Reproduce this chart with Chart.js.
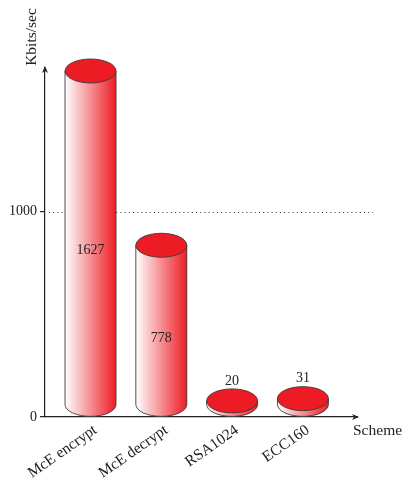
<!DOCTYPE html>
<html>
<head>
<meta charset="utf-8">
<script src="https://cdn.jsdelivr.net/npm/chart.js@4.4.1/dist/chart.umd.min.js"></script>
<style>
  html, body { margin: 0; padding: 0; background: #fff; }
  #chart { display: block; }
</style>
</head>
<body>
<canvas id="chart" width="403" height="480"></canvas>
<script>
// Throughput of each scheme, in Kbits/sec
const categories = ['McE encrypt', 'McE decrypt', 'RSA1024', 'ECC160'];
const throughput = [1627, 778, 20, 31];
const yTickValues = [0, 1000];
const referenceLevel = 1000;
const xAxisTitle = 'Scheme';
const yAxisTitle = 'Kbits/sec';

const FONT_FAMILY = "'Liberation Serif', 'DejaVu Serif', serif";
const WORD_SIZE = 15.5;
const NUM_SIZE = 14;
const INK = '#222';
const RED = '#ed1c24';
const CAP_RY = 12; // vertical radius of the cylinder caps

// Dotted reference line behind the cylinders
const referenceLinePlugin = {
  id: 'referenceLine',
  beforeDatasetsDraw(chart) {
    const { ctx, chartArea, scales } = chart;
    const y = Math.round(scales.y.getPixelForValue(referenceLevel)) + 0.5;
    ctx.save();
    ctx.strokeStyle = '#333';
    ctx.lineWidth = 1;
    ctx.setLineDash([1, 3.2]);
    ctx.beginPath();
    ctx.moveTo(chartArea.left + 4, y);
    ctx.lineTo(chartArea.right + 16, y);
    ctx.stroke();
    ctx.restore();
  }
};

// Bars rendered as shaded cylinders with a red cap
const cylinderPlugin = {
  id: 'cylinders',
  afterDatasetsDraw(chart) {
    const { ctx } = chart;
    const meta = chart.getDatasetMeta(0);
    meta.data.forEach((bar, i) => {
      const cx = bar.x;
      const rx = bar.width / 2;
      const ry = CAP_RY;
      const topC = bar.y - ry;
      const botC = bar.base - ry;
      ctx.save();
      ctx.lineWidth = 0.9;
      ctx.strokeStyle = '#3a3a3a';

      const grad = ctx.createLinearGradient(cx - rx, 0, cx + rx, 0);
      grad.addColorStop(0, '#ffffff');
      grad.addColorStop(1, RED);
      ctx.beginPath();
      ctx.moveTo(cx - rx, topC);
      ctx.lineTo(cx - rx, botC);
      ctx.ellipse(cx, botC, rx, ry, 0, Math.PI, 0, true);
      ctx.lineTo(cx + rx, topC);
      ctx.closePath();
      ctx.fillStyle = grad;
      ctx.fill();
      ctx.stroke();

      ctx.beginPath();
      ctx.ellipse(cx, topC, rx, ry, 0, 0, Math.PI * 2);
      ctx.fillStyle = RED;
      ctx.fill();
      ctx.stroke();

      // value label
      ctx.fillStyle = INK;
      ctx.font = NUM_SIZE + 'px ' + FONT_FAMILY;
      ctx.textAlign = 'center';
      ctx.textBaseline = 'middle';
      const v = throughput[i];
      if (bar.base - bar.y > 60) {
        ctx.fillText(String(v), cx, (bar.y + bar.base) / 2 + 1);
      } else {
        ctx.fillText(String(v), cx, bar.y - 2 * ry - 8);
      }
      ctx.restore();
    });
  }
};

// Arrow heads and axis titles
const axisDecorPlugin = {
  id: 'axisDecor',
  afterDraw(chart) {
    const { ctx, chartArea } = chart;
    const x0 = chartArea.left;
    const y0 = chartArea.bottom;
    ctx.save();
    ctx.fillStyle = INK;
    // y arrow
    const ty = chartArea.top - 2;
    ctx.beginPath();
    ctx.moveTo(x0, ty);
    ctx.lineTo(x0 - 3, ty + 7);
    ctx.lineTo(x0, ty + 5);
    ctx.lineTo(x0 + 3, ty + 7);
    ctx.closePath();
    ctx.fill();
    // x arrow
    const tx = chartArea.right + 2;
    ctx.beginPath();
    ctx.moveTo(tx, y0);
    ctx.lineTo(tx - 7, y0 - 3);
    ctx.lineTo(tx - 5, y0);
    ctx.lineTo(tx - 7, y0 + 3);
    ctx.closePath();
    ctx.fill();

    ctx.font = WORD_SIZE + 'px ' + FONT_FAMILY;
    ctx.textBaseline = 'middle';
    ctx.textAlign = 'left';
    ctx.fillText(xAxisTitle, chartArea.right - 4, y0 + 14);

    ctx.translate(32, 37);
    ctx.rotate(-Math.PI / 2);
    ctx.textAlign = 'center';
    ctx.fillText(yAxisTitle, 0, 0);
    ctx.restore();
  }
};

new Chart(document.getElementById('chart'), {
  type: 'bar',
  data: {
    datasets: [{
      data: categories.map((c, i) => ({ x: i, y: throughput[i] })),
      backgroundColor: 'rgba(0,0,0,0)',
      borderWidth: 0,
      categoryPercentage: 0.8,
      barPercentage: 0.9
    }]
  },
  options: {
    responsive: false,
    animation: false,
    devicePixelRatio: 1,
    layout: { padding: { top: 68, right: 46, left: 0, bottom: 0 } },
    plugins: { legend: { display: false }, tooltip: { enabled: false } },
    scales: {
      x: {
        type: 'linear',
        min: -0.643,
        max: 3.764,
        offset: false,
        grid: { display: false },
        border: { display: true, color: INK, width: 1.2 },
        afterBuildTicks: s => { s.ticks = categories.map((c, i) => ({ value: i })); },
        afterFit: s => { s.height = 63; },
        ticks: {
          autoSkip: false,
          minRotation: 35,
          maxRotation: 35,
          padding: -4,
          labelOffset: 5,
          color: INK,
          font: { family: FONT_FAMILY, size: WORD_SIZE },
          callback: v => categories[v] ?? ''
        }
      },
      y: {
        min: 0,
        max: 1700,
        afterBuildTicks: s => { s.ticks = yTickValues.map(v => ({ value: v })); },
        afterFit: s => { s.width = 45; },
        grid: { drawOnChartArea: false, drawTicks: true, tickLength: 5, color: INK, lineWidth: 1.2 },
        border: { display: true, color: INK, width: 1.2 },
        ticks: {
          padding: 3,
          color: INK,
          font: { family: FONT_FAMILY, size: NUM_SIZE },
          callback: v => String(v)
        }
      }
    }
  },
  plugins: [referenceLinePlugin, cylinderPlugin, axisDecorPlugin]
});
</script>
</body>
</html>
